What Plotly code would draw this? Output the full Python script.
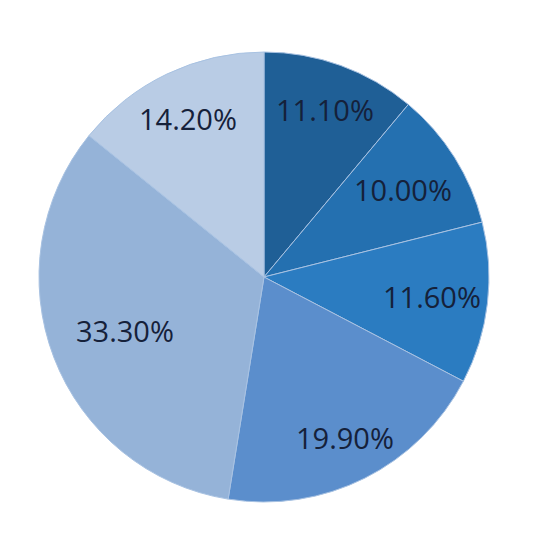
import math
import plotly.graph_objects as go

labels = ["A", "B", "C", "D", "E", "F"]
values = [11.1, 10.0, 11.6, 19.9, 33.3, 14.2]
pct_text = ["11.10%", "10.00%", "11.60%", "19.90%", "33.30%", "14.20%"]
colors = ["#1f5f96", "#2470b0", "#2b7cc1", "#5b8ecc", "#95b3d8", "#b9cce5"]

# where each label sits, as a fraction of the radius (best-fit style placement)
label_r = [0.79, 0.73, 0.75, 0.80, 0.66, 0.78]

dom_x = [0.0574, 0.8907]
dom_y = [0.0852, 0.9185]

fig = go.Figure(
    go.Pie(
        labels=labels,
        values=values,
        textinfo="none",
        sort=False,
        direction="clockwise",
        rotation=0,
        marker=dict(colors=colors, line=dict(color="#a8c2e2", width=1)),
        domain=dict(x=dom_x, y=dom_y),
        hoverinfo="none",
    )
)

# labels at the middle angle of each slice
cx = sum(dom_x) / 2
cy = sum(dom_y) / 2
rad = (dom_x[1] - dom_x[0]) / 2
total = sum(values)
cum = 0
for v, t, fr in zip(values, pct_text, label_r):
    mid = (cum + v / 2) / total * 2 * math.pi
    cum += v
    fig.add_annotation(
        x=cx + fr * rad * math.sin(mid),
        y=cy + fr * rad * math.cos(mid),
        xref="paper", yref="paper",
        xanchor="center", yanchor="middle",
        text=t, showarrow=False,
        font=dict(family="Open Sans", size=29, color="#15213a"),
    )

fig.update_layout(
    width=540,
    height=540,
    margin=dict(l=0, r=0, t=0, b=0),
    showlegend=False,
    paper_bgcolor="white",
)

fig.write_html("out.html")
